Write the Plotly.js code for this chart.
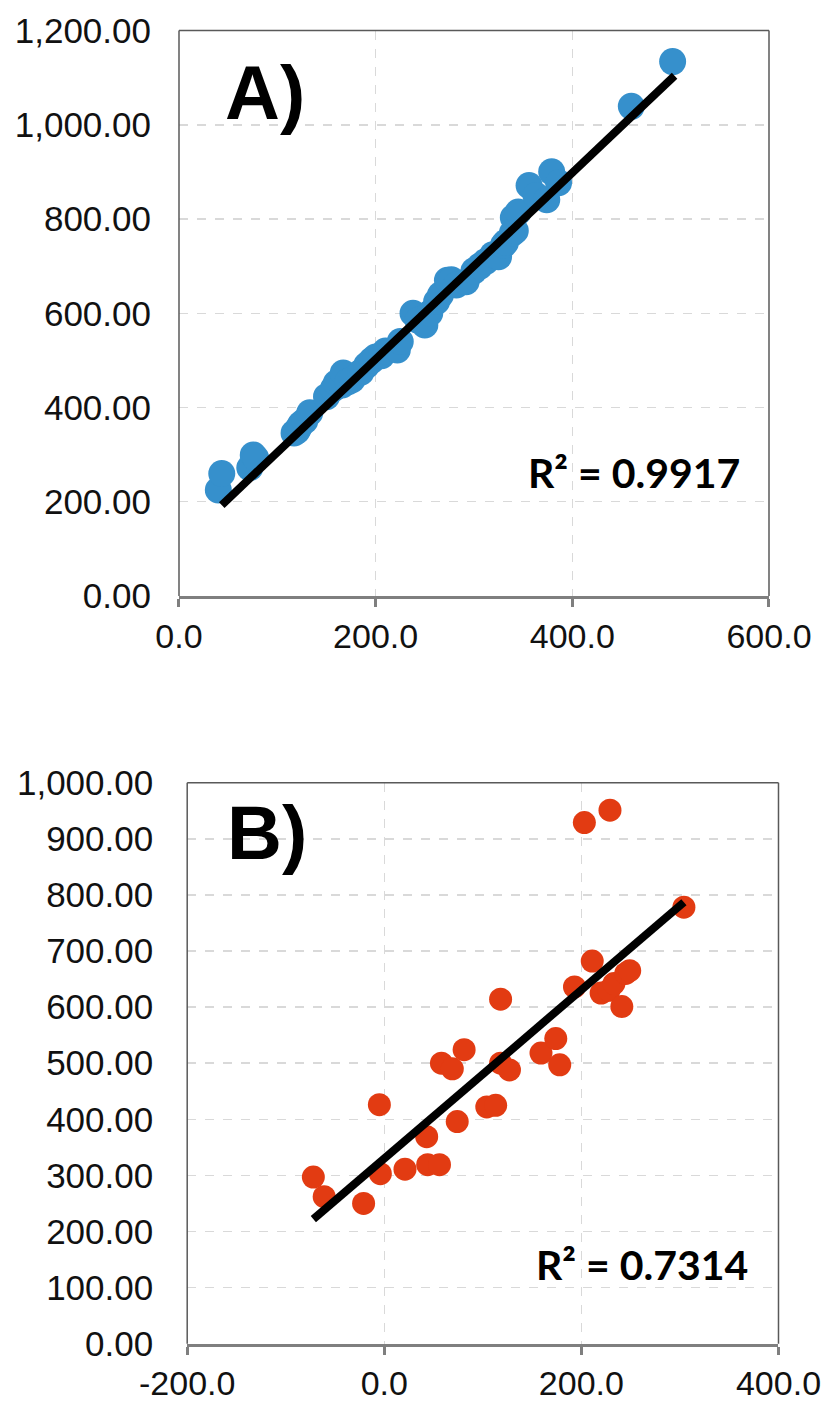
<!DOCTYPE html>
<html>
<head>
<meta charset="utf-8">
<script src="https://cdn.plot.ly/plotly-3.0.1.min.js"></script>
<style>html,body{margin:0;padding:0;background:#fff;}#chart{width:822px;height:1403px;}</style>
</head>
<body>
<div id="chart"></div>
<script>
// Panel A data
const aX = [40, 43.5, 72, 75.5, 78, 117, 120, 122, 124, 128, 133, 150, 157, 160, 166, 167, 172, 176, 185, 191, 196, 200, 206, 210, 222, 225, 238, 243, 250, 255, 262, 266, 273, 277, 282, 292, 300, 306, 312, 319, 325, 330, 332, 339, 340, 342, 345, 356, 363, 374, 379, 386, 460, 502];
const aY = [225, 260, 272, 299, 293, 346, 350, 358, 365, 372, 389, 423, 440, 452, 448, 473, 455, 459, 475, 490, 500, 507, 510, 520, 522, 540, 600, 585, 575, 600, 625, 639, 670, 671, 660, 667, 690, 700, 710, 724, 720, 745, 750, 770, 803, 775, 815, 871, 850, 841, 900, 877, 1039, 1134];
const aTrendX = [43.5, 504];
const aTrendY = [193, 1104];
const aR2 = "R² = 0.9917";

// Panel B data
const bX = [-72, -61, -21, -5, -4, 21, 44, 56, 43, 74, 58, 69, 81, 118, 118, 127, 104, 113, 159, 174, 178, 193, 211, 220, 228, 233, 245, 249, 241, 203, 229, 304];
const bY = [297, 262, 250, 426, 303, 311, 319, 319, 369, 396, 500, 490, 524, 614, 500, 488, 422, 425, 518, 544, 497, 636, 682, 625, 630, 642, 660, 665, 601, 929, 951, 778];
const bTrendX = [-72, 304];
const bTrendY = [222, 787];
const bR2 = "R² = 0.7314";

// Tick labels
const aXTicks = [0, 200, 400, 600];
const aXText = ["0.0", "200.0", "400.0", "600.0"];
const aYTicks = [0, 200, 400, 600, 800, 1000, 1200];
const aYText = ["0.00", "200.00", "400.00", "600.00", "800.00", "1,000.00", "1,200.00"];
const bXTicks = [-200, 0, 200, 400];
const bXText = ["-200.0", "0.0", "200.0", "400.0"];
const bYTicks = [0, 100, 200, 300, 400, 500, 600, 700, 800, 900, 1000];
const bYText = ["0.00", "100.00", "200.00", "300.00", "400.00", "500.00", "600.00", "700.00", "800.00", "900.00", "1,000.00"];

const tickFont = {family: "Liberation Sans, Arial, sans-serif", size: 35, color: "#111"};
const xTickFont = {family: "Liberation Sans, Arial, sans-serif", size: 34, color: "#111"};
const gridStyle = {showgrid: true, gridcolor: "#d9d9d9", gridwidth: 1.5, griddash: "dash", zeroline: false};

const traces = [
  {x: aX, y: aY, type: "scatter", mode: "markers", xaxis: "x", yaxis: "y",
   marker: {size: 27, color: "#3690cc"}, hoverinfo: "skip"},
  {x: aTrendX, y: aTrendY, type: "scatter", mode: "lines", xaxis: "x", yaxis: "y",
   line: {color: "#000", width: 8}, hoverinfo: "skip"},
  {x: bX, y: bY, type: "scatter", mode: "markers", xaxis: "x2", yaxis: "y2",
   marker: {size: 23, color: "#e23b12"}, hoverinfo: "skip"},
  {x: bTrendX, y: bTrendY, type: "scatter", mode: "lines", xaxis: "x2", yaxis: "y2",
   line: {color: "#000", width: 8}, hoverinfo: "skip"}
];

function xAxis(domain, range, vals, text, anchor) {
  return Object.assign({}, gridStyle, {
    domain: domain, range: range, anchor: anchor, tickmode: "array", tickvals: vals, ticktext: text,
    showline: true, linecolor: "#7f7f7f", linewidth: 3,
    ticks: "outside", ticklen: 8, tickwidth: 3, tickcolor: "#7f7f7f",
    ticklabelstandoff: 0, ticklabeloverflow: "allow", tickfont: xTickFont, fixedrange: true
  });
}
function yAxis(domain, range, vals, text, anchor, standoff) {
  return Object.assign({}, gridStyle, {
    domain: domain, range: range, anchor: anchor, tickmode: "array", tickvals: vals, ticktext: text,
    showline: false, ticks: "", ticklabelstandoff: standoff, ticklabeloverflow: "allow", tickfont: tickFont, fixedrange: true
  });
}

function frame(xr, yr) {
  const base = {type: "line", xref: xr + " domain", yref: yr + " domain", line: {color: "#595959", width: 1.5}, layer: "above"};
  return [
    Object.assign({}, base, {x0: 0, x1: 0, y0: 0, y1: 1}),
    Object.assign({}, base, {x0: 0, x1: 1, y0: 1, y1: 1}),
    Object.assign({}, base, {x0: 1, x1: 1, y0: 0, y1: 1})
  ];
}

const labelFont = {family: "Liberation Sans, Arial, sans-serif", size: 76, color: "#000", weight: 700};
const r2Font = {family: "Lato, Open Sans, sans-serif", size: 41, color: "#000", weight: 700};

const layout = {
  width: 822, height: 1403,
  margin: {l: 0, r: 0, t: 0, b: 0},
  paper_bgcolor: "#fff", plot_bgcolor: "#fff",
  showlegend: false,
  xaxis: xAxis([0.21776, 0.93552], [0, 600], aXTicks, aXText, "y"),
  yaxis: yAxis([0.57520, 0.97826], [0, 1200], aYTicks, aYText, "x", 27),
  xaxis2: xAxis([0.22774, 0.94708], [-200, 400], bXTicks, bXText, "y2"),
  yaxis2: yAxis([0.04227, 0.44213], [0, 1000], bYTicks, bYText, "x2", 33),
  shapes: frame("x", "y").concat(frame("x2", "y2")),
  annotations: [
    {text: "A)", xref: "x domain", yref: "y domain", x: 0.146, y: 0.890, xanchor: "center", yanchor: "middle", showarrow: false, font: labelFont},
    {text: aR2, xref: "x domain", yref: "y domain", x: 0.954, y: 0.219, xanchor: "right", yanchor: "middle", showarrow: false, font: r2Font},
    {text: "B)", xref: "x2 domain", yref: "y2 domain", x: 0.135, y: 0.911, xanchor: "center", yanchor: "middle", showarrow: false, font: labelFont},
    {text: bR2, xref: "x2 domain", yref: "y2 domain", x: 0.952, y: 0.142, xanchor: "right", yanchor: "middle", showarrow: false, font: r2Font}
  ]
};

Plotly.newPlot("chart", traces, layout, {displayModeBar: false, staticPlot: true});
</script>
</body>
</html>
